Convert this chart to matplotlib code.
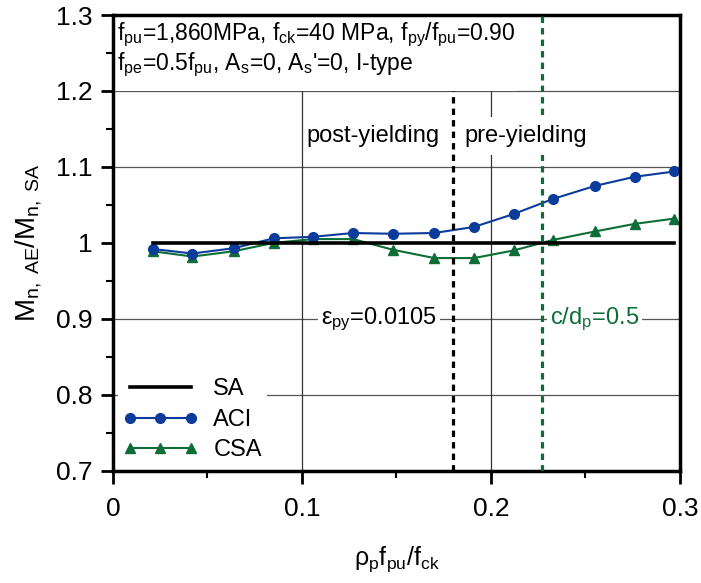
"""Relação M_n,AE / M_n,SA em função de rho_p f_pu / f_ck."""

import matplotlib

matplotlib.use("Agg")

import matplotlib.pyplot as plt
from matplotlib.patches import Rectangle
from matplotlib.ticker import MultipleLocator


# ===========================
# Dados
# ===========================

indice = [0.021, 0.042, 0.064, 0.085, 0.106, 0.127, 0.148,
          0.170, 0.191, 0.212, 0.233, 0.255, 0.276, 0.297]

aci = [0.992, 0.986, 0.993, 1.006, 1.008, 1.013, 1.012,
       1.013, 1.021, 1.038, 1.058, 1.075, 1.087, 1.094]

csa = [0.989, 0.982, 0.989, 1.000, 1.005, 1.005, 0.991,
       0.980, 0.980, 0.990, 1.004, 1.015, 1.025, 1.032]

sa_x = [0.021, 0.297]
sa_y = [1.0, 1.0]

eps_py = 0.18
c_dp = 0.227

ticks_x = [0, 0.1, 0.2, 0.3]
rotulos_x = ["0", "0.1", "0.2", "0.3"]
ticks_y = [0.7, 0.8, 0.9, 1.0, 1.1, 1.2, 1.3]
rotulos_y = ["0.7", "0.8", "0.9", "1", "1.1", "1.2", "1.3"]

AZUL = "#0b3c9c"
VERDE = "#0c6e36"

# ===========================
# Estilo
# ===========================

plt.rcParams["font.family"] = ["Liberation Sans", "DejaVu Sans"]
plt.rcParams["mathtext.fontset"] = "custom"
plt.rcParams["mathtext.rm"] = "Liberation Sans"
plt.rcParams["mathtext.it"] = "Liberation Sans"
plt.rcParams["mathtext.default"] = "regular"

fig = plt.figure(figsize=(7.01, 5.83), dpi=100)
ax = fig.add_axes([0.1612, 0.1926, 0.8088, 0.7816])

ax.set_xlim(0, 0.3)
ax.set_ylim(0.7, 1.3)

# Grade manual (1.0 fica por baixo da linha SA)
for y in [0.8, 0.9, 1.1, 1.2]:
    ax.axhline(y, color="#555555", lw=0.9, zorder=0.5)
for x in [0.1, 0.2]:
    ax.axvline(x, color="#333333", lw=0.9, zorder=0.5)

# Caixa branca atrás do texto de parâmetros
ax.add_patch(Rectangle((0, 1.2), 0.214, 0.1, facecolor="white",
                       edgecolor="none", zorder=1))

# ===========================
# Curvas
# ===========================

ax.plot(sa_x, sa_y, color="black", lw=2.6, zorder=3, label="SA")
ax.plot(indice, aci, color=AZUL, lw=1.5, marker="o", ms=7,
        zorder=2.5, label="ACI")
ax.plot(indice, csa, color=VERDE, lw=1.5, marker="^", ms=7,
        zorder=2.4, label="CSA")

# Limites verticais
ax.plot([eps_py, eps_py], [0.7, 1.2], color="black", lw=2.3,
        ls=(0, (2.0, 1.6)), zorder=3.5)
ax.axvline(c_dp, color=VERDE, lw=2.3, ls=(0, (2.0, 1.6)), zorder=3.5)

# ===========================
# Textos
# ===========================

caixa = dict(facecolor="white", edgecolor="none", pad=2)

ax.text(0.002, 1.274,
        "f$_{pu}$=1,860MPa, f$_{ck}$=40 MPa, f$_{py}$/f$_{pu}$=0.90",
        fontsize=16.5, ha="left", va="center", zorder=4)
ax.text(0.002, 1.234,
        "f$_{pe}$=0.5f$_{pu}$, A$_{s}$=0, A$_{s}$'=0, I-type",
        fontsize=16.5, ha="left", va="center", zorder=4)

ax.text(0.1025, 1.141, "post-yielding", fontsize=17,
        ha="left", va="center", zorder=4)
ax.text(0.186, 1.141, "pre-yielding", fontsize=17,
        ha="left", va="center", bbox=dict(facecolor="white",
                                          edgecolor="none", pad=6),
        zorder=4)

ax.text(0.1715, 0.9, r"$\epsilon_{py}$=0.0105", fontsize=17,
        ha="right", va="center", bbox=caixa, zorder=4)
ax.text(0.231, 0.9, "c/d$_{p}$=0.5", fontsize=17, color=VERDE,
        ha="left", va="center", bbox=caixa, zorder=4)

# ===========================
# Eixos
# ===========================

ax.set_xticks(ticks_x)
ax.set_xticklabels(rotulos_x)
ax.set_yticks(ticks_y)
ax.set_yticklabels(rotulos_y)
ax.xaxis.set_minor_locator(MultipleLocator(0.05))
ax.yaxis.set_minor_locator(MultipleLocator(0.05))

ax.tick_params(which="major", direction="out", length=9, width=2,
               labelsize=19, pad=6)
ax.tick_params(axis="x", which="major", pad=10)
ax.tick_params(which="minor", direction="out", length=5, width=1.5)

for lado in ax.spines.values():
    lado.set_linewidth(2.5)

ax.set_xlabel(r"$\rho_{p}$f$_{pu}$/f$_{ck}$", fontsize=18, labelpad=17)
ax.set_ylabel("M$_{n,\\ AE}$/M$_{n,\\ SA}$", fontsize=20, labelpad=8)

leg = ax.legend(loc="lower left", bbox_to_anchor=(0.0, 0.0),
                numpoints=3, handlelength=3.2, fontsize=17,
                frameon=True, fancybox=False, framealpha=1,
                edgecolor="none", labelspacing=0.36, borderpad=0.2,
                borderaxespad=0.2, handletextpad=0.65)
leg.set_zorder(5)

fig.savefig("out.png", dpi=100)
plt.close(fig)
